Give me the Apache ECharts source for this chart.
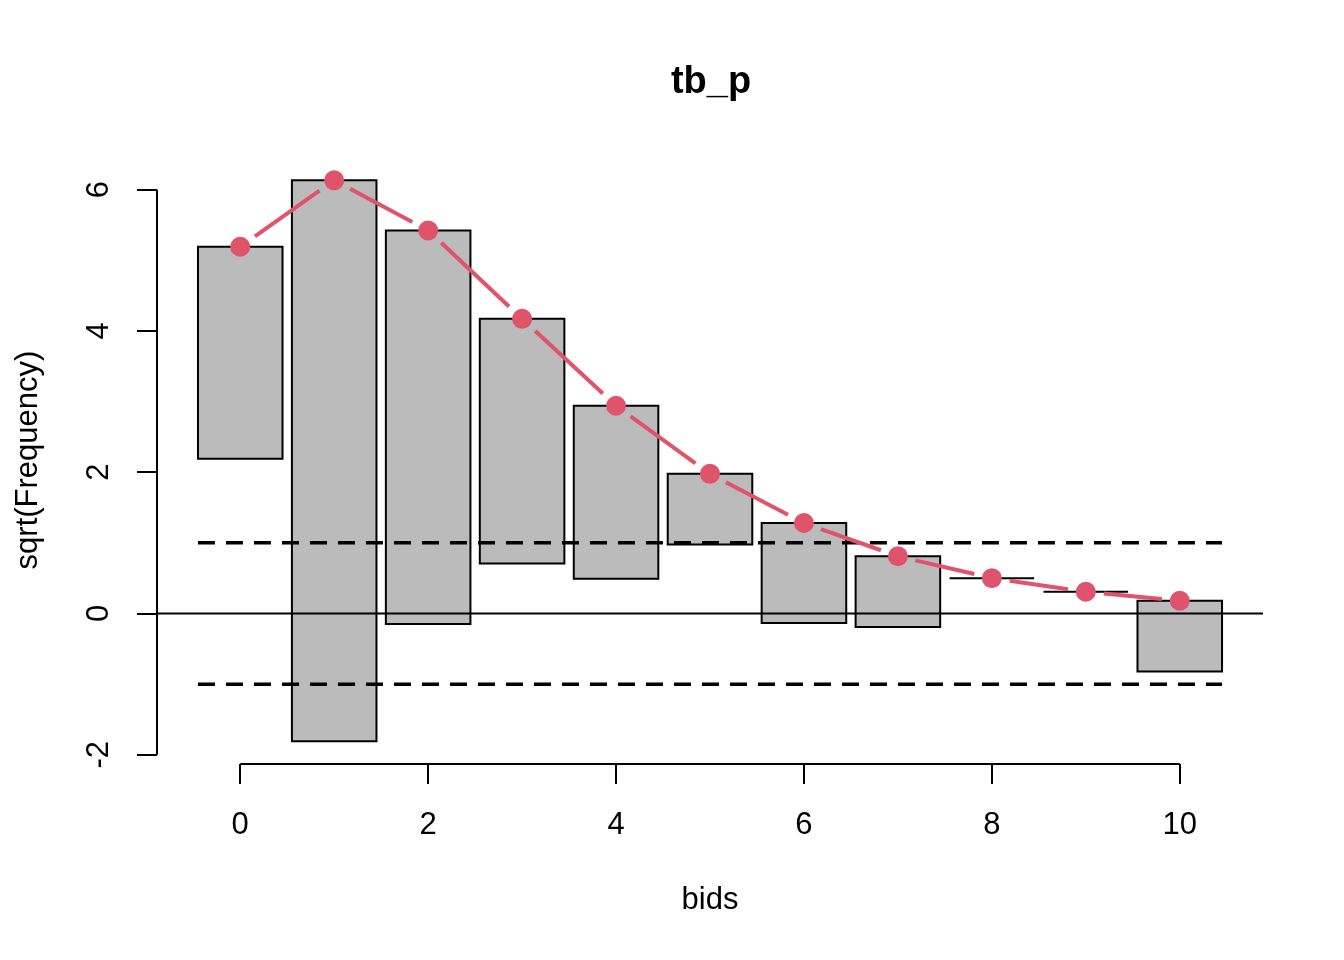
<!DOCTYPE html>
<html>
<head>
<meta charset="utf-8">
<script src="https://cdn.jsdelivr.net/npm/echarts@6/dist/echarts.min.js"></script>
<style>
html,body{margin:0;padding:0;background:#fff;}
#chart{width:1344px;height:960px;}
</style>
</head>
<body>
<div id="chart"></div>
<script>
// ---- data ----
const bids = [0, 1, 2, 3, 4, 5, 6, 7, 8, 9, 10];
const observedFreq = [9, 63, 31, 12, 6, 1, 2, 1, 0, 0, 1];
const expectedSqrt = [5.19, 6.13, 5.42, 4.17, 2.94, 1.976, 1.28, 0.81, 0.50, 0.307, 0.18];
const xTicks = [0, 2, 4, 6, 8, 10];
const yTicks = [-2, 0, 2, 4, 6];
const refLines = [-1, 1];

// ---- layout constants ----
const BAR_W = 0.9;
const X_MIN = -0.886, X_MAX = 10.886;
const Y_MIN = -2.13, Y_MAX = 6.46;
const RED = '#DF536B';
const FONT = 'Liberation Sans, Arial, Helvetica, sans-serif';

const barData = bids.map((b, i) => [b, expectedSqrt[i], expectedSqrt[i] - Math.sqrt(observedFreq[i])]);
const pointData = bids.map((b, i) => [b, expectedSqrt[i]]);
const segData = bids.slice(0, -1).map((b, i) => [b, expectedSqrt[i], bids[i + 1], expectedSqrt[i + 1]]);

const chart = echarts.init(document.getElementById('chart'), null, {renderer: 'canvas'});

const option = {
  backgroundColor: '#ffffff',
  animation: false,
  title: {
    text: 'tb_p', left: 706, top: 59, textAlign: 'center',
    textStyle: {fontFamily: FONT, fontSize: 38, fontWeight: 'bold', color: '#000', lineHeight: 38}
  },
  grid: {left: 157, right: 81, top: 157, bottom: 196, containLabel: false},
  xAxis: {
    type: 'value', min: X_MIN, max: X_MAX,
    axisLine: {show: false, onZero: false},
    splitLine: {show: false},
    axisTick: {show: true, customValues: xTicks, length: 20, lineStyle: {color: '#000', width: 2}},
    axisLabel: {show: true, customValues: xTicks, margin: 46, fontFamily: FONT, fontSize: 31, color: '#000', lineHeight: 31}
  },
  yAxis: {
    type: 'value', min: Y_MIN, max: Y_MAX,
    axisLine: {show: false, onZero: false},
    splitLine: {show: false},
    axisTick: {show: true, customValues: yTicks, length: 20, lineStyle: {color: '#000', width: 2}},
    axisLabel: {show: true, customValues: yTicks, rotate: 90, margin: 42, fontFamily: FONT, fontSize: 31, color: '#000', lineHeight: 31}
  },
  graphic: [
    {type: 'text', x: 710, y: 900, style: {text: 'bids', fontFamily: FONT, fontSize: 31, fill: '#000', align: 'center', verticalAlign: 'middle'}},
    {type: 'text', x: 28, y: 460, rotation: Math.PI / 2, style: {text: 'sqrt(Frequency)', fontFamily: FONT, fontSize: 31, fill: '#000', align: 'center', verticalAlign: 'middle'}}
  ],
  series: [
    {
      type: 'custom', name: 'bars', z: 2,
      data: barData,
      renderItem: function (params, api) {
        const x = api.value(0), top = api.value(1), bot = api.value(2);
        const p1 = api.coord([x - BAR_W / 2, top]);
        const p2 = api.coord([x + BAR_W / 2, bot]);
        return {
          type: 'rect',
          shape: {x: p1[0], y: p1[1], width: p2[0] - p1[0], height: p2[1] - p1[1]},
          style: {fill: '#BBBBBB', stroke: '#000', lineWidth: 2}
        };
      }
    },
    {
      // reference lines: axis lines, zero line, dashed +-1 lines
      type: 'custom', name: 'refs', z: 3,
      data: [[0]],
      renderItem: function (params, api) {
        const children = [];
        const ax0 = api.coord([xTicks[0], Y_MIN]), ax1 = api.coord([xTicks[xTicks.length - 1], Y_MIN]);
        children.push({type: 'line', shape: {x1: ax0[0], y1: ax0[1], x2: ax1[0], y2: ax1[1]}, style: {stroke: '#000', lineWidth: 2}});
        const ay0 = api.coord([X_MIN, yTicks[0]]), ay1 = api.coord([X_MIN, yTicks[yTicks.length - 1]]);
        children.push({type: 'line', shape: {x1: ay0[0], y1: ay0[1], x2: ay1[0], y2: ay1[1]}, style: {stroke: '#000', lineWidth: 2}});
        const z0 = api.coord([X_MIN, 0]), z1 = api.coord([X_MAX, 0]);
        children.push({type: 'line', shape: {x1: z0[0], y1: z0[1], x2: z1[0], y2: z1[1]}, style: {stroke: '#000', lineWidth: 2}});
        refLines.forEach(function (v) {
          const a = api.coord([bids[0] - BAR_W / 2, v]), b = api.coord([bids[bids.length - 1] + BAR_W / 2, v]);
          children.push({type: 'line', shape: {x1: a[0], y1: a[1], x2: b[0], y2: b[1]}, style: {stroke: '#000', lineWidth: 3.5, lineDash: [17, 11]}});
        });
        return {type: 'group', children: children};
      }
    },
    {
      // connecting line with gaps around the points (R type = "b")
      type: 'custom', name: 'fitline', z: 4,
      data: segData,
      renderItem: function (params, api) {
        const a = api.coord([api.value(0), api.value(1)]);
        const b = api.coord([api.value(2), api.value(3)]);
        const dx = b[0] - a[0], dy = b[1] - a[1];
        const len = Math.sqrt(dx * dx + dy * dy);
        const gap = 18;
        if (len <= 2 * gap) return null;
        const ux = dx / len, uy = dy / len;
        return {
          type: 'line',
          shape: {x1: a[0] + ux * gap, y1: a[1] + uy * gap, x2: b[0] - ux * gap, y2: b[1] - uy * gap},
          style: {stroke: RED, lineWidth: 4, lineCap: 'butt'}
        };
      }
    },
    {
      type: 'scatter', name: 'points', z: 5,
      data: pointData,
      symbol: 'circle', symbolSize: 20,
      itemStyle: {color: RED, opacity: 1}
    }
  ]
};
chart.setOption(option);
</script>
</body>
</html>
